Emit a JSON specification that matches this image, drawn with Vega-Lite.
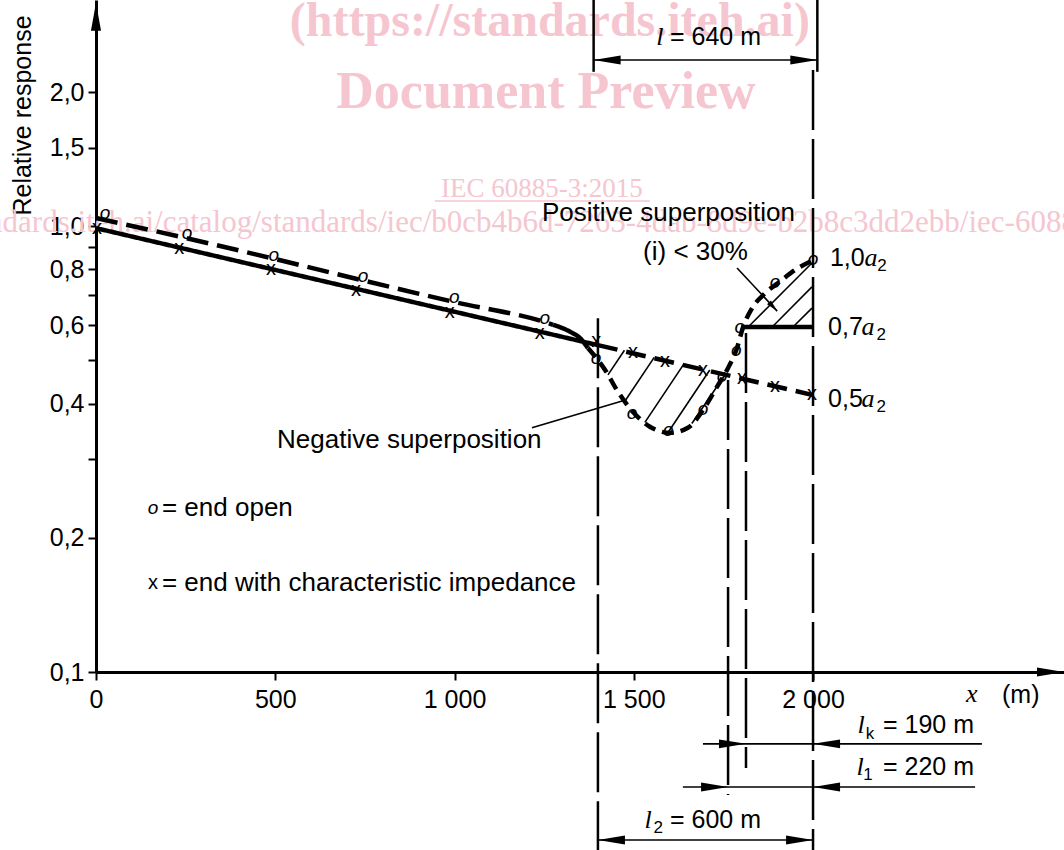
{
"$schema":"https://vega.github.io/schema/vega-lite/v6.json",
"width":968,"height":672,
"autosize":{"type":"none"},
"padding":{"left":96,"top":0,"right":0,"bottom":178},
"background":"white",
"config":{"view":{"stroke":null}},
"datasets":{
"openLine":[{"x":0,"y":1.043,"seg":"oa"},{"x":250,"y":0.941,"seg":"oa"},{"x":500,"y":0.844,"seg":"oa"},{"x":750,"y":0.754,"seg":"oa"},{"x":1000,"y":0.676,"seg":"oa"},{"x":1250,"y":0.61,"seg":"oa"},{"x":1275,"y":0.601,"seg":"oa"},
{"x":1275,"y":0.601,"seg":"ob"},{"x":1322,"y":0.58,"seg":"ob"},{"x":1350,"y":0.561,"seg":"ob"},{"x":1372,"y":0.533,"seg":"ob"},
{"x":1372,"y":0.533,"seg":"oc"},{"x":1400,"y":0.501,"seg":"oc"},{"x":1420,"y":0.476,"seg":"oc"},{"x":1453,"y":0.429,"seg":"oc"},{"x":1498,"y":0.383,"seg":"oc"},{"x":1545,"y":0.355,"seg":"oc"},{"x":1601,"y":0.344,"seg":"oc"},{"x":1651,"y":0.353,"seg":"oc"},{"x":1693,"y":0.387,"seg":"oc"},{"x":1732,"y":0.436,"seg":"oc"},{"x":1763,"y":0.481,"seg":"oc"},{"x":1788,"y":0.533,"seg":"oc"},{"x":1805,"y":0.594,"seg":"oc"},{"x":1830,"y":0.655,"seg":"oc"},{"x":1866,"y":0.707,"seg":"oc"},{"x":1908,"y":0.752,"seg":"oc"},{"x":1950,"y":0.798,"seg":"oc"},{"x":2000,"y":0.839,"seg":"oc"}],
"charLine":[{"x":0,"y":0.99,"seg":"cs"},{"x":1400,"y":0.541,"seg":"cs"},{"x":1400,"y":0.541,"seg":"cd"},{"x":2000,"y":0.418,"seg":"cd"}],
"segs":[
{"x":1428,"y":0.464,"x2":1474,"y2":0.527,"kind":"hatch"},
{"x":1476,"y":0.406,"x2":1557,"y2":0.508,"kind":"hatch"},
{"x":1531,"y":0.363,"x2":1640,"y2":0.491,"kind":"hatch"},
{"x":1596,"y":0.345,"x2":1712,"y2":0.476,"kind":"hatch"},
{"x":1662,"y":0.361,"x2":1755,"y2":0.465,"kind":"hatch"},
{"x":1819,"y":0.594,"x2":1997,"y2":0.827,"kind":"hatch"},
{"x":1886,"y":0.594,"x2":1997,"y2":0.731,"kind":"hatch"},
{"x":1944,"y":0.594,"x2":1997,"y2":0.655,"kind":"hatch"},
{"x":1216,"y":0.353,"x2":1470,"y2":0.406,"kind":"thin"},
{"x":1788,"y":0.806,"x2":1900,"y2":0.645,"kind":"thin"},
{"x":1388,"y":2.36,"x2":2012,"y2":2.36,"kind":"thin"},
{"x":1693,"y":0.069,"x2":2471,"y2":0.069,"kind":"thin"},
{"x":1637,"y":0.0552,"x2":2452,"y2":0.0552,"kind":"thin"},
{"x":1400,"y":0.042,"x2":2000,"y2":0.042,"kind":"thin"},
{"x":1800,"y":0.594,"x2":2000,"y2":0.594,"kind":"thick"},
{"x":1400,"y":0.622,"x2":1400,"y2":0.0399,"kind":"vdash"},
{"x":1763,"y":0.452,"x2":1763,"y2":0.053,"kind":"vdash"},
{"x":1813,"y":0.576,"x2":1813,"y2":0.0609,"kind":"vdash"},
{"x":2000,"y":2.24,"x2":2000,"y2":0.0399,"kind":"vdash"},
{"x":1388,"y":3.217,"x2":1388,"y2":2.22,"kind":"vsolid"},
{"x":2012,"y":3.217,"x2":2012,"y2":2.22,"kind":"vsolid"},
{"x":945,"y":1.139,"x2":1545,"y2":1.139,"kind":"wm"}],
"arrows":[
{"x":0,"y":3.17,"dir":"u"},
{"x":2700,"y":0.1,"dir":"r"},
{"x":1388,"y":2.36,"dir":"l"},{"x":2012,"y":2.36,"dir":"r"},
{"x":1813,"y":0.069,"dir":"r"},{"x":2000,"y":0.069,"dir":"l"},
{"x":1763,"y":0.0552,"dir":"r"},{"x":2000,"y":0.0552,"dir":"l"},
{"x":1400,"y":0.042,"dir":"l"},{"x":2000,"y":0.042,"dir":"r"},
{"x":1900,"y":0.645,"dir":"dr"}],
"oMarks":[{"x":25,"y":1.071},{"x":254,"y":0.965},{"x":496,"y":0.862},{"x":745,"y":0.773},{"x":999,"y":0.694},{"x":1252,"y":0.622},{"x":1395,"y":0.506},{"x":1495,"y":0.381},{"x":1596,"y":0.349},{"x":1693,"y":0.389},{"x":1746,"y":0.461},{"x":1786,"y":0.527},{"x":1796,"y":0.595},{"x":1894,"y":0.75},{"x":2000,"y":0.846},{"x":159,"y":0.2333}],
"xMarks":[{"x":3,"y":0.99},{"x":232,"y":0.893},{"x":488,"y":0.8},{"x":725,"y":0.718},{"x":987,"y":0.642},{"x":1238,"y":0.576},{"x":1395,"y":0.552},{"x":1498,"y":0.521},{"x":1587,"y":0.499},{"x":1693,"y":0.477},{"x":1802,"y":0.456},{"x":1894,"y":0.438},{"x":1997,"y":0.42},{"x":159,"y":0.1584}],
"notes":[
{"x":1244,"y":1.071,"text":"Positive superposition"},
{"x":1526,"y":0.875,"text":"(i) < 30%"},
{"x":505,"y":0.331,"text":"Negative superposition"},
{"x":184,"y":0.2333,"text":"= end open"},
{"x":184,"y":0.1584,"text":"= end with characteristic impedance"}],
"labels":[
{"x":2047,"y":0.849,"text":"1,0"},
{"x":2042,"y":0.594,"text":"0,7"},
{"x":2042,"y":0.41,"text":"0,5"},
{"x":1601,"y":2.657,"text":"= 640 m"},
{"x":2195,"y":0.076,"text":"= 190 m"},
{"x":2195,"y":0.0612,"text":"= 220 m"},
{"x":1601,"y":0.0466,"text":"= 600 m"},
{"x":2527,"y":0.0888,"text":"(m)"}],
"italics":[
{"x":1573,"y":2.657,"text":"l"},
{"x":2134,"y":0.076,"text":"l"},
{"x":2131,"y":0.0612,"text":"l"},
{"x":1540,"y":0.0466,"text":"l"},
{"x":2162,"y":0.849,"text":"a"},
{"x":2153,"y":0.594,"text":"a"},
{"x":2153,"y":0.41,"text":"a"},
{"x":2443,"y":0.0893,"text":"x"}],
"subs":[
{"x":2159,"y":0.0726,"text":"k"},
{"x":2153,"y":0.0587,"text":"1"},
{"x":1568,"y":0.0447,"text":"2"},
{"x":2192,"y":0.814,"text":"2"},
{"x":2190,"y":0.57,"text":"2"},
{"x":2190,"y":0.393,"text":"2"}]
},
"encoding":{
"x":{"field":"x","type":"quantitative","scale":{"domain":[0,2700],"nice":false,"zero":false},
 "axis":{"values":[0,500,1000,1500,2000],"title":null,"grid":false,"domainWidth":3,"domainColor":"black","tickColor":"black","tickWidth":2,"tickSize":8,"labelFont":"Liberation Sans","labelFontSize":25,"labelColor":"black","labelPadding":7,"labelFlush":false,"labelOverlap":false,
 "labelExpr":"datum.value >= 1000 ? replace(format(datum.value, ','), ',', ' ') : format(datum.value, 'd')"}},
"y":{"field":"y","type":"quantitative","scale":{"type":"log","domain":[0.1,3.217],"nice":false},
 "axis":{"values":[0.1,0.2,0.3,0.4,0.5,0.6,0.7,0.8,0.9,1,1.5,2],"title":"Relative response","titleFont":"Liberation Sans","titleFontSize":25,"titleFontWeight":"normal","titleColor":"black","titleAngle":-90,"titleX":-66,"titleY":115,"titleAlign":"center","titleBaseline":"alphabetic",
 "grid":false,"domainWidth":3,"domainColor":"black","tickColor":"black","tickWidth":2,"tickSize":8,"labelFont":"Liberation Sans","labelFontSize":25,"labelColor":"black","labelPadding":4,"labelOverlap":false,"labelFlush":false,
 "labelExpr":"indexof(['0.3','0.5','0.7','0.9'], format(datum.value,'.1f')) >= 0 ? '' : replace(format(datum.value,'.1f'),'.',',')"}}
},
"layer":[
{"data":{"values":[{"x":1266,"y":2.671,"text":"(https://standards.iteh.ai)"}]},"mark":{"type":"text","font":"Liberation Serif","fontWeight":"bold","fontSize":48,"color":"#f5c6d0","align":"center","baseline":"alphabetic"},"encoding":{"text":{"field":"text"}}},
{"data":{"values":[{"x":1255,"y":1.841,"text":"Document Preview"}]},"mark":{"type":"text","font":"Liberation Serif","fontWeight":"bold","fontSize":52,"color":"#f5c6d0","align":"center","baseline":"alphabetic"},"encoding":{"text":{"field":"text"}}},
{"data":{"values":[{"x":1244,"y":1.163,"text":"IEC 60885-3:2015"}]},"mark":{"type":"text","font":"Liberation Serif","fontSize":27,"color":"#f5c6d0","align":"center","baseline":"alphabetic"},"encoding":{"text":{"field":"text"}}},
{"data":{"values":[{"x":-640,"y":0.97,"text":"https://standards.iteh.ai/catalog/standards/iec/b0cb4b6d-7265-4dab-8d9e-b2b8c3dd2ebb/iec-60885-3-2015"}]},"mark":{"type":"text","font":"Liberation Serif","fontSize":31,"color":"#f5c6d0","align":"left","baseline":"alphabetic"},"encoding":{"text":{"field":"text"}}},
{"data":{"name":"segs"},"transform":[{"filter":"datum.kind == 'wm'"}],"mark":{"type":"rule","color":"#f5c6d0","strokeWidth":1.5},"encoding":{"x2":{"field":"x2"},"y2":{"field":"y2"}}},
{"data":{"name":"segs"},"transform":[{"filter":"datum.kind == 'hatch' || datum.kind == 'thin'"}],"mark":{"type":"rule","color":"black","strokeWidth":1.6},"encoding":{"x2":{"field":"x2"},"y2":{"field":"y2"}}},
{"data":{"name":"segs"},"transform":[{"filter":"datum.kind == 'thick'"}],"mark":{"type":"rule","color":"black","strokeWidth":4.5},"encoding":{"x2":{"field":"x2"},"y2":{"field":"y2"}}},
{"data":{"name":"segs"},"transform":[{"filter":"datum.kind == 'vdash'"}],"mark":{"type":"rule","color":"black","strokeWidth":2.5,"strokeDash":[60,9]},"encoding":{"x2":{"field":"x2"},"y2":{"field":"y2"}}},
{"data":{"name":"segs"},"transform":[{"filter":"datum.kind == 'vsolid'"}],"mark":{"type":"rule","color":"black","strokeWidth":2.5},"encoding":{"x2":{"field":"x2"},"y2":{"field":"y2"}}},
{"data":{"name":"charLine"},"mark":{"type":"line","color":"black","strokeWidth":4.5,"strokeCap":"butt"},"encoding":{"strokeDash":{"field":"seg","type":"nominal","scale":{"domain":["oa","ob","oc","cs","cd"],"range":[[22,9],[1,0],[12,7],[1,0],[20,9]]},"legend":null}}},
{"data":{"name":"openLine"},"mark":{"type":"line","color":"black","strokeWidth":4.5,"strokeCap":"butt","interpolate":"monotone"},"encoding":{"strokeDash":{"field":"seg","type":"nominal","scale":{"domain":["oa","ob","oc","cs","cd"],"range":[[22,9],[1,0],[12,7],[1,0],[20,9]]},"legend":null}}},
{"data":{"name":"xMarks"},"mark":{"type":"text","text":"x","font":"Liberation Sans","fontSize":20,"color":"black","align":"center","baseline":"middle"}},
{"data":{"name":"oMarks"},"mark":{"type":"text","text":"o","font":"Liberation Sans","fontStyle":"italic","fontSize":19,"color":"black","align":"center","baseline":"middle"}},
{"data":{"name":"notes"},"mark":{"type":"text","font":"Liberation Sans","fontSize":26,"color":"black","align":"left","baseline":"middle"},"encoding":{"text":{"field":"text"}}},
{"data":{"name":"labels"},"mark":{"type":"text","font":"Liberation Sans","fontSize":25,"color":"black","align":"left","baseline":"middle"},"encoding":{"text":{"field":"text"}}},
{"data":{"name":"italics"},"mark":{"type":"text","font":"Liberation Serif","fontStyle":"italic","fontSize":26,"color":"black","align":"center","baseline":"middle"},"encoding":{"text":{"field":"text"}}},
{"data":{"name":"subs"},"mark":{"type":"text","font":"Liberation Sans","fontSize":17,"color":"black","align":"center","baseline":"middle"},"encoding":{"text":{"field":"text"}}},
{"data":{"name":"arrows"},"transform":[{"filter":"datum.dir == 'r'"}],"mark":{"type":"point","shape":"M0,0L-2,-0.33L-2,0.33Z","size":729,"filled":true,"color":"black","opacity":1,"strokeWidth":0,"angle":0}},
{"data":{"name":"arrows"},"transform":[{"filter":"datum.dir == 'l'"}],"mark":{"type":"point","shape":"M0,0L-2,-0.33L-2,0.33Z","size":729,"filled":true,"color":"black","opacity":1,"strokeWidth":0,"angle":180}},
{"data":{"name":"arrows"},"transform":[{"filter":"datum.dir == 'u'"}],"mark":{"type":"point","shape":"M0,0L-2,-0.36L-2,0.36Z","size":784,"filled":true,"color":"black","opacity":1,"strokeWidth":0,"angle":270}},
{"data":{"name":"arrows"},"transform":[{"filter":"datum.dir == 'dr'"}],"mark":{"type":"point","shape":"M0,0L-2,-0.45L-2,0.45Z","size":144,"filled":true,"color":"black","opacity":1,"strokeWidth":0,"angle":47}}
]
}
